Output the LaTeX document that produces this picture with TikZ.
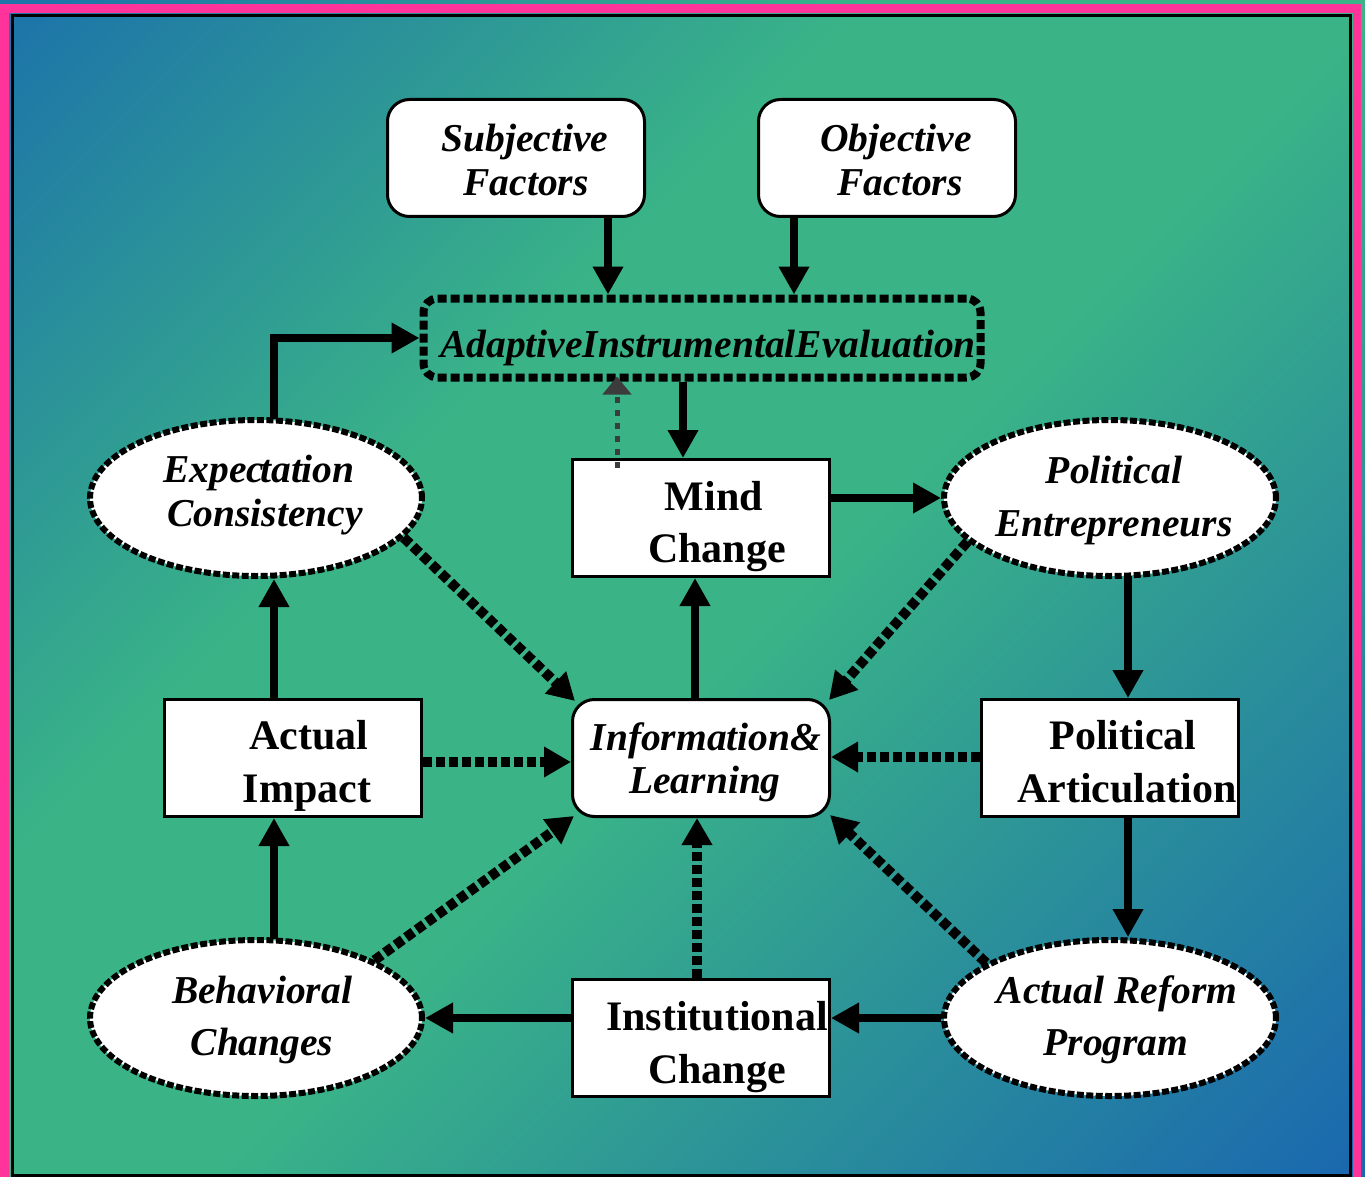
\documentclass[tikz,border=0pt]{standalone}
\usepackage{fontspec}
\setmainfont{Liberation Serif}
\usetikzlibrary{arrows.meta,calc,shapes.geometric}
\definecolor{bgA}{HTML}{1E76A8}
\definecolor{bgG}{HTML}{3AB487}
\definecolor{bgB}{HTML}{1966B0}
\definecolor{framepink}{HTML}{FF3399}
\definecolor{dotgray}{HTML}{3C3C3C}
\pgfdeclarehorizontalshading{bgshade}{100bp}{color(0bp)=(bgA); color(16bp)=(bgA); color(39bp)=(bgG); color(53bp)=(bgG); color(86bp)=(bgB); color(100bp)=(bgB)}
\begin{document}
\begin{tikzpicture}[x=1pt,y=-1pt,
  box/.style={draw=black,line width=3pt,fill=white,minimum width=257pt,minimum height=117pt,inner sep=0pt},
  rbox/.style={box,rounded corners=22pt},
  oval/.style={ellipse,draw=black,fill=white,line width=6pt,dash pattern=on 7pt off 2.5pt,minimum width=332pt,minimum height=156pt,inner sep=0pt},
  bt/.style={font=\fontsize{42}{50}\selectfont\bfseries,anchor=base,inner sep=0pt},
  it/.style={font=\fontsize{39.5}{44}\selectfont\bfseries\itshape,anchor=base,inner sep=0pt},
  solidarrow/.style={line width=8pt,-{Triangle[length=28pt,width=29pt]}},
  dotarrow/.style={line width=10pt,dash pattern=on 9pt off 4pt,-{Triangle[length=27pt,width=29pt]}},
  grayarrow/.style={draw=dotgray,line width=5pt,dash pattern=on 6pt off 7pt,-{Triangle[length=18pt,width=28pt,fill=dotgray]}},
]
\useasboundingbox (0,0) rectangle (1365,1177);
\shade[shading=bgshade, shading angle=-45] (0,0) rectangle (1365,1177);
\draw[framepink,line width=8.5pt] (4.5,8.5) rectangle (1357,1190);
\draw[black,line width=3pt] (12.5,15.5) rectangle (1350.5,1175.5);

% nodes
\node[rbox] (SF) at (516,158) {};
\node[rbox] (OF) at (887,158) {};
\node[draw=black,line width=8pt,dash pattern=on 9pt off 4pt,rounded corners=14pt,minimum width=557pt,minimum height=79pt,inner sep=0pt] (AIE) at (702,338) {};
\node[box] (MC) at (701,518) {};
\node[oval] (EC) at (256,498) {};
\node[oval] (PE) at (1110,498) {};
\node[box] (AI) at (293,758) {};
\node[rbox] (IL) at (701,758) {};
\node[box] (PA) at (1110,758) {};
\node[oval] (BC) at (256,1018) {};
\node[box] (IC) at (701,1038) {};
\node[oval] (ARP) at (1110,1018) {};

% texts
\node[it] (tSF1) at (525,152) {Subjective};
\node[it] (tSF2) at (526,196) {Factors};
\node[it] (tOF1) at (896,152) {Objective};
\node[it] (tOF2) at (900,196) {Factors};
\node[it] (tAIE) at (708,357) {AdaptiveInstrumentalEvaluation};
\node[bt] (tMC1) at (714,510) {Mind};
\node[bt] (tMC2) at (717,562) {Change};
\node[it] (tEC1) at (259,482) {Expec\kern-4pt tation};
\node[it] (tEC2) at (265,526) {Consistency};
\node[it] (tPE1) at (1114,483) {Political};
\node[it] (tPE2) at (1114,536) {Entrepreneurs};
\node[bt] (tAI1) at (309,749) {Actual};
\node[bt] (tAI2) at (307,802) {Impact};
\node[it] (tIL1) at (706,750) {Information\&};
\node[it] (tIL2) at (705,793) {Learning};
\node[bt] (tPA1) at (1123,749) {Political};
\node[bt] (tPA2) at (1127,802) {Articulation};
\node[it] (tBC1) at (262,1003) {Behavioral};
\node[it] (tBC2) at (262,1055) {Changes};
\node[bt] (tIC1) at (717,1030) {Institutional};
\node[bt] (tIC2) at (717,1083) {Change};
\node[it] (tAR1) at (1117,1003) {Actual Reform};
\node[it] (tAR2) at (1116,1055) {Program};

% coordinates
\coordinate (s1) at ($(SF.south)+(92,0)$);
\coordinate (o1) at ($(OF.south)+(-93,0)$);
\coordinate (v1) at ($(MC.north)+(-18,0)$);
\coordinate (g1) at ($(MC.north)+(-84,10)$);
\coordinate (g2) at ($(g1 |- AIE.south)+(0,-5)$);
\coordinate (e1) at ($(EC.north)+(18,2)$);
\coordinate (a1) at ($(AI.north)+(-19,0)$);
\coordinate (m1) at ($(IL.north)+(-6,0)$);
\coordinate (p1) at ($(PE.south)+(18,-3)$);
\coordinate (p2) at ($(PA.south)+(18,0)$);
\coordinate (b1) at ($(BC.north)+(18,2)$);
\coordinate (i1) at ($(IC.north)+(-4,0)$);

% solid connectors
\draw[solidarrow] (s1) -- (s1 |- AIE.north);
\draw[solidarrow] (o1) -- (o1 |- AIE.north);
\draw[solidarrow] (v1 |- AIE.south) -- (v1);
\draw[solidarrow] (e1) |- (AIE.west);
\draw[solidarrow] (MC.east |- PE.west) -- (PE.west);
\draw[solidarrow] (m1) -- (m1 |- MC.south);
\draw[solidarrow] (a1) -- (a1 |- EC.south);
\draw[solidarrow] (p1) -- (p1 |- PA.north);
\draw[solidarrow] (p2) -- (p2 |- ARP.north);
\draw[solidarrow] (ARP.west) -- (ARP.west -| IC.east);
\draw[solidarrow] (BC.east -| IC.west) -- (BC.east);
\draw[solidarrow] (b1) -- (b1 |- AI.south);
\draw[grayarrow] (g1) -- (g2);

% dotted connectors
\draw[dotarrow] (EC.-15) -- ($(IL.north west)+(4,3)$);
\draw[dotarrow] (PE.197) -- ($(IL.north east)+(-2,2)$);
\draw[dotarrow] ($(AI.east)+(0,4)$) -- ($(IL.west)+(0,4)$);
\draw[dotarrow] ($(PA.west)+(0,-1)$) -- ($(IL.east)+(0,-1)$);
\draw[dotarrow] (BC.26) -- ($(IL.south west)+(3,-2)$);
\draw[dotarrow] (i1) -- (i1 |- IL.south);
\draw[dotarrow] (ARP.156) -- ($(IL.south east)+(-1,-3)$);
\end{tikzpicture}
\end{document}
